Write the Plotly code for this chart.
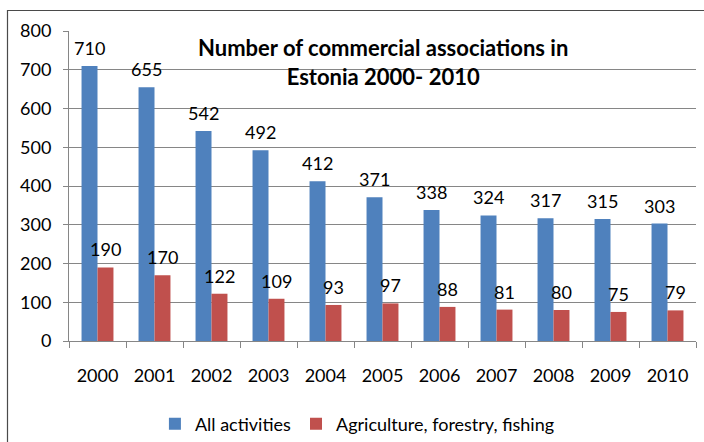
import plotly.graph_objects as go

# Commercial associations in Estonia, 2000-2010
years = ["2000", "2001", "2002", "2003", "2004", "2005",
         "2006", "2007", "2008", "2009", "2010"]
all_activities = [710, 655, 542, 492, 412, 371, 338, 324, 317, 315, 303]
agri_forest_fish = [190, 170, 122, 109, 93, 97, 88, 81, 80, 75, 79]

series_names = ["All activities", "Agriculture, forestry, fishing"]
series_colors = ["#4F81BD", "#C0504D"]

FONT = "Lato"
FS = 18
W, H = 704, 442
ML, MR, MT, MB = 69, 8, 31, 101

fig = go.Figure()
for name, vals, col in zip(series_names, [all_activities, agri_forest_fish], series_colors):
    fig.add_trace(go.Bar(
        x=years, y=vals, name=name,
        marker=dict(color=col, line=dict(width=0)),
    ))

# value labels above each bar (category index positions, shifted to each bar)
annotations = []
for vals, xs in [(all_activities, -8), (agri_forest_fish, 8)]:
    for i, v in enumerate(vals):
        annotations.append(dict(
            x=i, y=v, xref="x", yref="y", text=str(v), showarrow=False,
            xanchor="center", yanchor="bottom", xshift=xs, yshift=5,
            font=dict(family=FONT, size=FS, color="#000000"),
        ))

# chart title inside the plot area
annotations.append(dict(
    x=0.5, y=1, xref="paper", yref="paper", xanchor="center", yanchor="top",
    yshift=-1, showarrow=False,
    text="<b>Number of commercial associations in<br>Estonia 2000- 2010</b>",
    font=dict(family=FONT, size=22, color="#000000"),
))

pw = W - ML - MR
ph = H - MT - MB
# outer chart frame (left and top edges visible)
frame = dict(
    type="rect", xref="paper", yref="paper", layer="below",
    x0=(7.5 - ML) / pw, x1=(W + 20 - ML) / pw,
    y0=(H - MB - (H + 20)) / ph, y1=(H - MB - 10.5) / ph,
    line=dict(color="#4a4a4a", width=1.2), fillcolor="rgba(0,0,0,0)",
)

fig.update_layout(
    width=W, height=H,
    margin=dict(l=ML, r=MR, t=MT, b=MB, autoexpand=False),
    paper_bgcolor="white", plot_bgcolor="white",
    barmode="group", bargap=0.44, bargroupgap=0,
    font=dict(family=FONT, size=FS, color="#000000"),
    annotations=annotations,
    shapes=[frame],
    showlegend=True,
    legend=dict(
        orientation="h", x=0.46, xanchor="center", y=(341 - 424) / ph, yanchor="middle",
        font=dict(family=FONT, size=FS, color="#000000"),
        bgcolor="rgba(0,0,0,0)",
    ),
    xaxis=dict(
        type="category", range=[-0.5, len(years) - 0.5], automargin=False,
        tickson="boundaries", ticks="outside", ticklen=6, tickangle=0,
        ticklabelstandoff=18,
        tickcolor="#868686", showline=True, linecolor="#868686", linewidth=1,
        showgrid=False, tickfont=dict(family=FONT, size=FS, color="#000000"),
    ),
    yaxis=dict(
        range=[0, 800], dtick=100, ticks="outside", ticklen=5, automargin=False,
        ticklabelstandoff=8,
        tickcolor="#868686", showline=True, linecolor="#868686", linewidth=1,
        showgrid=True, gridcolor="#868686", gridwidth=1, zeroline=False,
        tickfont=dict(family=FONT, size=FS, color="#000000"),
    ),
)

fig.write_html("out.html")
